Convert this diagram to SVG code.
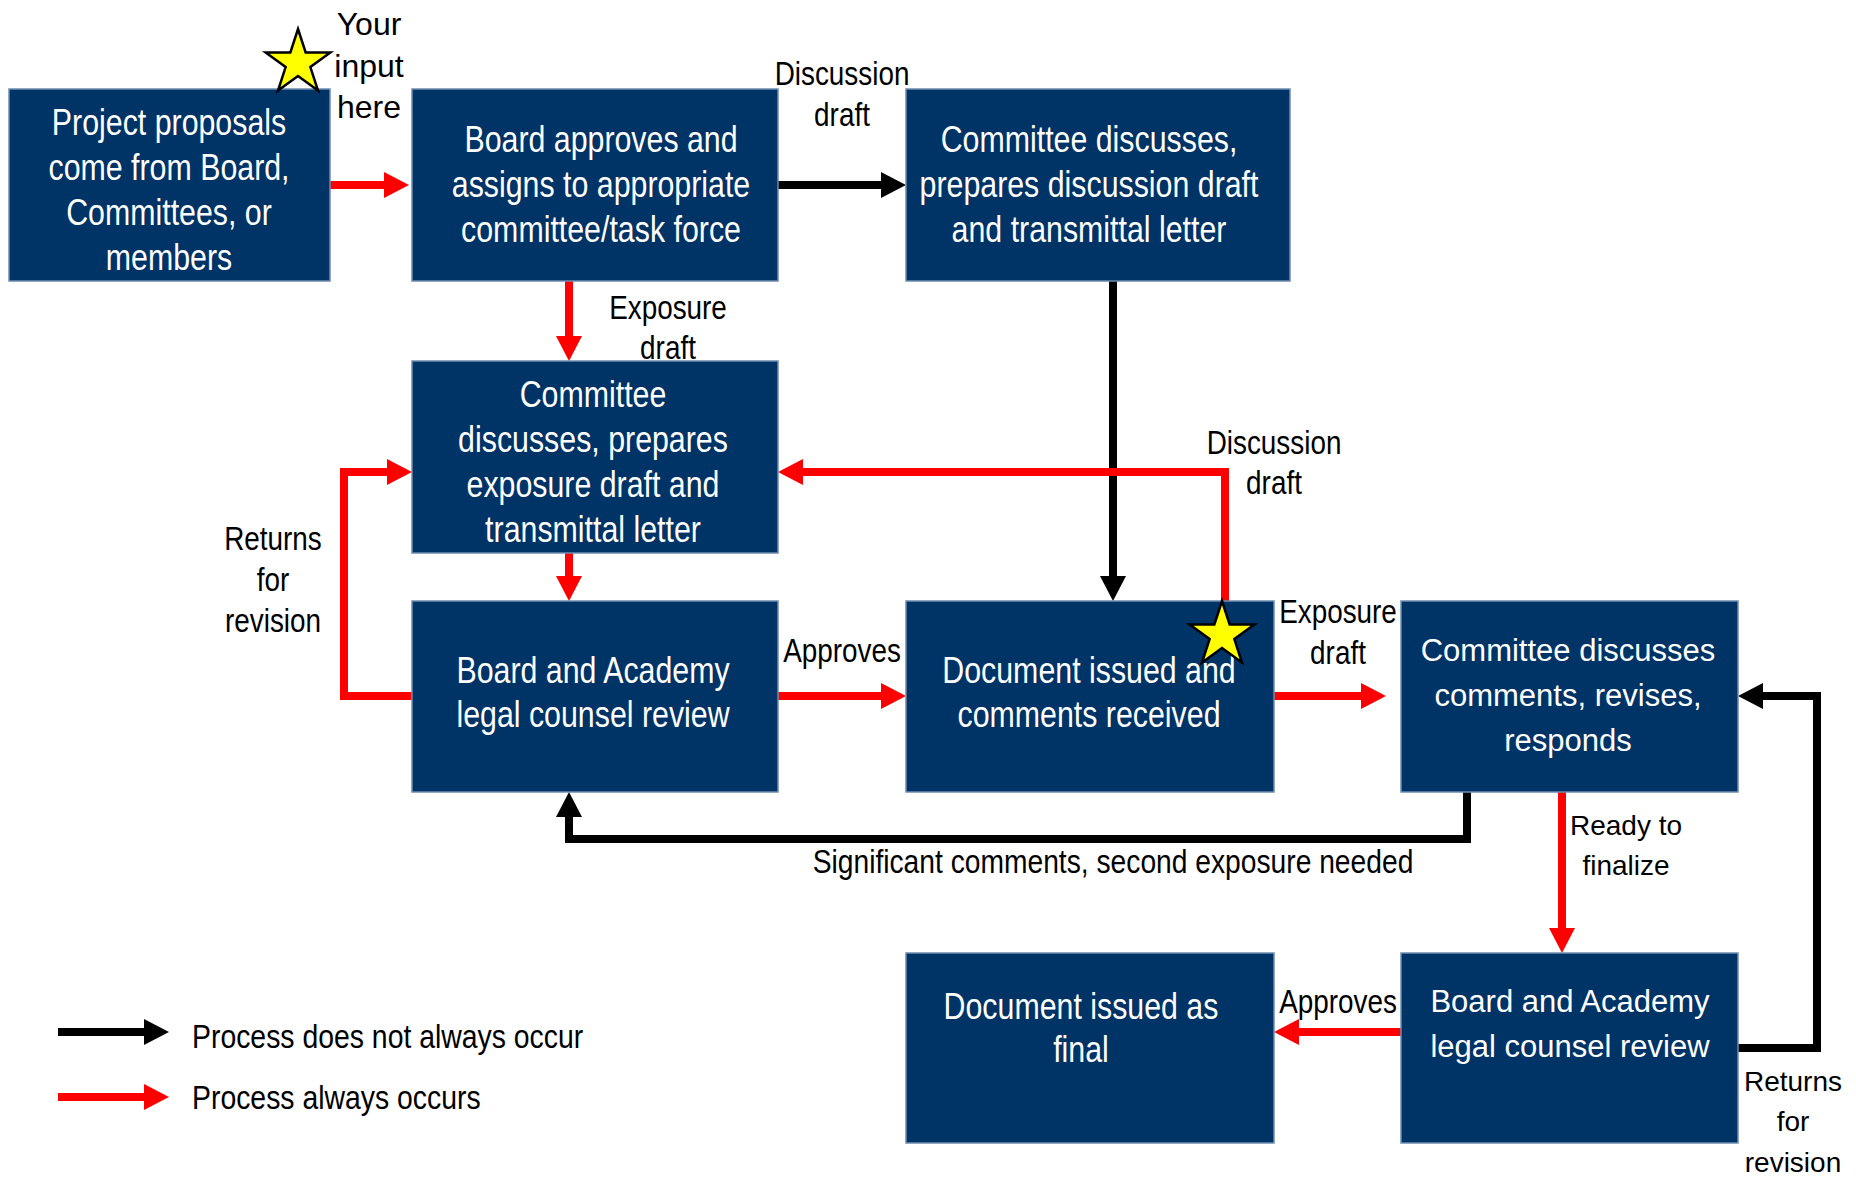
<svg xmlns="http://www.w3.org/2000/svg" width="1856" height="1178" viewBox="0 0 1856 1178">
<style>
.box{fill:#003366;stroke:#6f8db0;stroke-width:1.5}
.bt{fill:#fff;font-family:'Liberation Sans',Arial,sans-serif;font-size:37px;text-anchor:middle}
.bw{fill:#fff;font-family:'Liberation Sans',Arial,sans-serif;font-size:31px;text-anchor:middle}
.lb{fill:#000;font-family:'Liberation Sans',Arial,sans-serif;font-size:34px;text-anchor:middle}
.lw{fill:#000;font-family:'Liberation Sans',Arial,sans-serif;font-size:28px;text-anchor:middle}
.red{fill:none;stroke:#ff0000;stroke-width:8;marker-end:url(#ar)}
.blk{fill:none;stroke:#000;stroke-width:8;marker-end:url(#ab)}
.star{fill:#ffff00;stroke:#000;stroke-width:2.5;stroke-linejoin:miter}
</style>
<defs>
<marker id="ar" markerUnits="userSpaceOnUse" markerWidth="25" markerHeight="26" refX="15" refY="13" orient="auto"><path d="M0,0 L25,13 L0,26 z" fill="#ff0000"/></marker>
<marker id="ab" markerUnits="userSpaceOnUse" markerWidth="25" markerHeight="26" refX="15" refY="13" orient="auto"><path d="M0,0 L25,13 L0,26 z" fill="#000"/></marker>
<polygon id="starshape" points="0,-34 7.64,-10.52 32.34,-10.51 12.36,4.02 19.98,27.51 0,13 -19.98,27.51 -12.36,4.02 -32.34,-10.51 -7.64,-10.52"/>
</defs>
<rect width="1856" height="1178" fill="#fff"/>
<g id="connectors">
<path class="red" d="M330,185 H399"/>
<path class="blk" d="M778,185 H896"/>
<path class="red" d="M569,281 V351"/>
<path class="blk" d="M1113,281 V591"/>
<path class="red" d="M569,553 V591"/>
<path class="red" d="M1225,601 V472 H788"/>
<path class="red" d="M412,696 H344 V472 H402"/>
<path class="red" d="M778,696 H896"/>
<path class="red" d="M1274,696 H1376"/>
<path class="blk" d="M1467,792 V839 H569 V802"/>
<path class="red" d="M1562,792 V943"/>
<path class="red" d="M1401,1032 H1284"/>
<path class="blk" d="M1738,1048 H1817 V696 H1748"/>
</g>
<g id="n1"><rect class="box" x="9" y="89" width="321" height="192"/>
<text class="bt" transform="translate(169,0) scale(0.82,1)" y="135">Project proposals</text><text class="bt" transform="translate(169,0) scale(0.82,1)" y="180">come from Board,</text><text class="bt" transform="translate(169,0) scale(0.82,1)" y="225">Committees, or</text><text class="bt" transform="translate(169,0) scale(0.82,1)" y="270">members</text></g>
<g id="n2"><rect class="box" x="412" y="89" width="366" height="192"/>
<text class="bt" transform="translate(601,0) scale(0.82,1)" y="152">Board approves and</text><text class="bt" transform="translate(601,0) scale(0.82,1)" y="197">assigns to appropriate</text><text class="bt" transform="translate(601,0) scale(0.82,1)" y="242">committee/task force</text></g>
<g id="n3"><rect class="box" x="906" y="89" width="384" height="192"/>
<text class="bt" transform="translate(1089,0) scale(0.82,1)" y="152">Committee discusses,</text><text class="bt" transform="translate(1089,0) scale(0.82,1)" y="197">prepares discussion draft</text><text class="bt" transform="translate(1089,0) scale(0.82,1)" y="242">and transmittal letter</text></g>
<g id="n4"><rect class="box" x="412" y="361" width="366" height="192"/>
<text class="bt" transform="translate(593,0) scale(0.82,1)" y="407">Committee</text><text class="bt" transform="translate(593,0) scale(0.82,1)" y="452">discusses, prepares</text><text class="bt" transform="translate(593,0) scale(0.82,1)" y="497">exposure draft and</text><text class="bt" transform="translate(593,0) scale(0.82,1)" y="542">transmittal letter</text></g>
<g id="n5"><rect class="box" x="412" y="601" width="366" height="191"/>
<text class="bt" transform="translate(593,0) scale(0.82,1)" y="683">Board and Academy</text><text class="bt" transform="translate(593,0) scale(0.82,1)" y="727">legal counsel review</text></g>
<g id="n6"><rect class="box" x="906" y="601" width="368" height="191"/>
<text class="bt" transform="translate(1089,0) scale(0.82,1)" y="683">Document issued and</text><text class="bt" transform="translate(1089,0) scale(0.82,1)" y="727">comments received</text></g>
<g id="n7"><rect class="box" x="1401" y="601" width="337" height="191"/>
<text class="bw" x="1568" y="661">Committee discusses</text><text class="bw" x="1568" y="706">comments, revises,</text><text class="bw" x="1568" y="751">responds</text></g>
<g id="n8"><rect class="box" x="906" y="953" width="368" height="190"/>
<text class="bt" transform="translate(1081,0) scale(0.82,1)" y="1019">Document issued as</text><text class="bt" transform="translate(1081,0) scale(0.82,1)" y="1062">final</text></g>
<g id="n9"><rect class="box" x="1401" y="953" width="337" height="190"/>
<text class="bw" x="1570" y="1012">Board and Academy</text><text class="bw" x="1570" y="1057">legal counsel review</text></g>
<g id="stars">
<use href="#starshape" class="star" transform="translate(298,63)"/>
<use href="#starshape" class="star" transform="translate(1222,635)"/>
</g>
<g id="labels">
<text class="lw" style="font-size:32px" x="369" y="35">Your</text><text class="lw" style="font-size:32px" x="369" y="77">input</text><text class="lw" style="font-size:32px" x="369" y="118">here</text>
<text class="lb" transform="translate(842,0) scale(0.82,1)" y="85">Discussion</text><text class="lb" transform="translate(842,0) scale(0.82,1)" y="126">draft</text>
<text class="lb" transform="translate(668,0) scale(0.82,1)" y="319">Exposure</text><text class="lb" transform="translate(668,0) scale(0.82,1)" y="359">draft</text>
<text class="lb" transform="translate(1274,0) scale(0.82,1)" y="454">Discussion</text><text class="lb" transform="translate(1274,0) scale(0.82,1)" y="494">draft</text>
<text class="lb" transform="translate(273,0) scale(0.82,1)" y="550">Returns</text><text class="lb" transform="translate(273,0) scale(0.82,1)" y="591">for</text><text class="lb" transform="translate(273,0) scale(0.82,1)" y="632">revision</text>
<text class="lb" transform="translate(842,0) scale(0.82,1)" y="662">Approves</text>
<text class="lb" transform="translate(1338,0) scale(0.82,1)" y="623">Exposure</text><text class="lb" transform="translate(1338,0) scale(0.82,1)" y="664">draft</text>
<text class="lb" transform="translate(1113,0) scale(0.83,1)" y="873">Significant comments, second exposure needed</text>
<text class="lw" x="1626" y="835">Ready to</text><text class="lw" x="1626" y="875">finalize</text>
<text class="lb" transform="translate(1338,0) scale(0.82,1)" y="1013">Approves</text>
<text class="lw" x="1793" y="1091">Returns</text><text class="lw" x="1793" y="1131">for</text><text class="lw" x="1793" y="1172">revision</text>
</g>
<g id="legend">
<path class="blk" d="M58,1032 H159"/>
<path class="red" d="M58,1097 H159"/>
<text class="lb" style="text-anchor:start" transform="translate(192,0) scale(0.835,1)" y="1048">Process does not always occur</text>
<text class="lb" style="text-anchor:start" transform="translate(192,0) scale(0.835,1)" y="1109">Process always occurs</text>
</g>
</svg>
